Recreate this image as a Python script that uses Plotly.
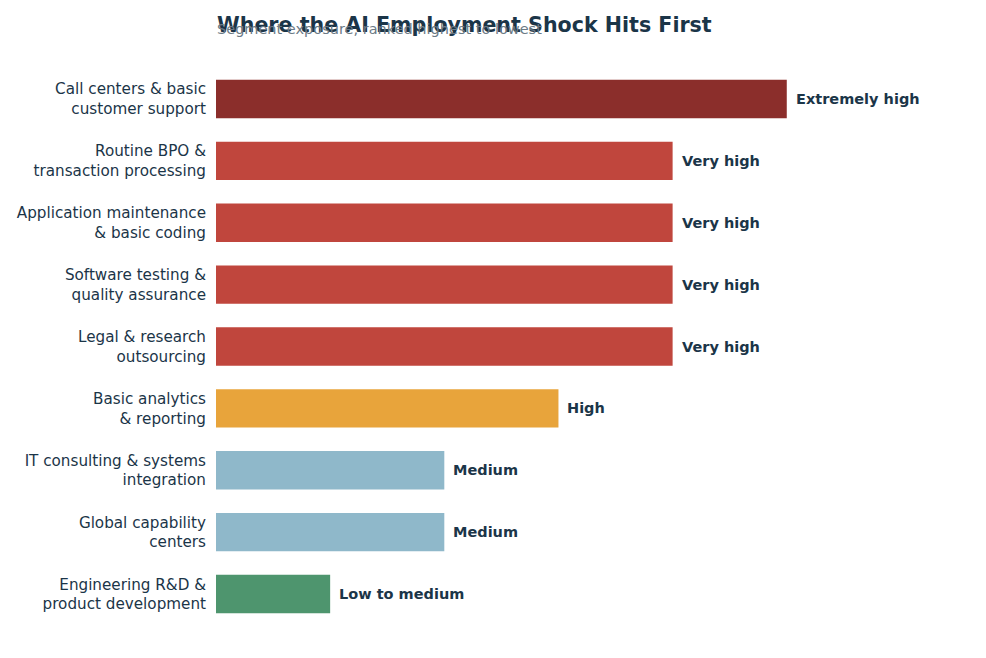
import plotly.graph_objects as go

segments = [
    "Call centers & basic<br>customer support",
    "Routine BPO &<br>transaction processing",
    "Application maintenance<br>& basic coding",
    "Software testing &<br>quality assurance",
    "Legal & research<br>outsourcing",
    "Basic analytics<br>& reporting",
    "IT consulting & systems<br>integration",
    "Global capability<br>centers",
    "Engineering R&D &<br>product development",
]
scores = [5, 4, 4, 4, 4, 3, 2, 2, 1]
levels = ["Extremely high", "Very high", "Very high", "Very high", "Very high",
          "High", "Medium", "Medium", "Low to medium"]
level_colors = {
    "Extremely high": "#8B2E2B",
    "Very high": "#C0463D",
    "High": "#E8A43B",
    "Medium": "#8FB8CA",
    "Low to medium": "#4E956E",
}

txt = "#1B3548"
fig = go.Figure(go.Bar(
    x=scores, y=segments, orientation="h",
    marker=dict(color=[level_colors[l] for l in levels], line=dict(width=0)),
    width=0.62,
    hoverinfo="skip",
))

annotations = [
    dict(x=s, y=seg, xref="x", yref="y", text="<b>" + l + "</b>",
         xanchor="left", yanchor="middle", xshift=7, showarrow=False,
         font=dict(family="DejaVu Sans", size=14.5, color=txt))
    for s, seg, l in zip(scores, segments, levels)
]
annotations += [
    dict(text="<b>Where the AI Employment Shock Hits First</b>",
         xref="paper", yref="paper", x=0, y=1, yshift=43, xanchor="left", yanchor="middle",
         xshift=-1, showarrow=False, font=dict(size=20.6, color=txt, family="DejaVu Sans")),
    dict(text="Segment exposure, ranked highest to lowest",
         xref="paper", yref="paper", x=0, y=1, yshift=39, xanchor="left", yanchor="middle",
         xshift=-1, showarrow=False, font=dict(size=14.5, color="#6B7A86", family="DejaVu Sans")),
]

fig.update_layout(
    width=986, height=658,
    margin=dict(l=208, r=36, t=60, b=41),
    plot_bgcolor="white", paper_bgcolor="white",
    font=dict(family="DejaVu Sans", size=15, color=txt),
    showlegend=False,
    xaxis=dict(range=[0, 6.5], visible=False),
    yaxis=dict(autorange="reversed", showgrid=False, zeroline=False, automargin=False,
               ticks="", ticklabelstandoff=9, tickfont=dict(size=15.2, color=txt)),
    annotations=annotations,
)

fig.write_html("out.html")
